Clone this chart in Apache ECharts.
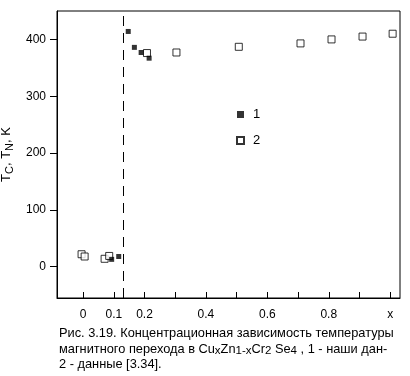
<!DOCTYPE html>
<html>
<head>
<meta charset="utf-8">
<script src="https://cdn.jsdelivr.net/npm/echarts@6/dist/echarts.min.js"></script>
<style>
  html, body { margin: 0; padding: 0; background: #fff; }
  #main { width: 410px; height: 376px; }
</style>
</head>
<body>
<div id="main"></div>
<script>
// ticks and labels
const xTicks = [0, 0.1, 0.2, 0.3, 0.4, 0.5, 0.6, 0.7, 0.8, 0.9, 1.0];
const xLabels = [0, 0.1, 0.2, 0.4, 0.6, 0.8, 1.0];
const yTicks = [0, 100, 200, 300, 400];

// 1 - наши данные (x, T)
const ours = [[0.093, 13], [0.116, 18], [0.147, 414], [0.167, 386], [0.189, 377], [0.215, 367]];
// 2 - данные [3.34]
const lit = [[-0.005, 22], [0.005, 18], [0.07, 14], [0.085, 19], [0.208, 376], [0.304, 377],
  [0.507, 387], [0.708, 393], [0.809, 400], [0.91, 405], [1.008, 410]];
// граница (пунктир)
const boundaryX = 0.134;

const FONT = '"Liberation Sans", Arial, sans-serif';

const chart = echarts.init(document.getElementById('main'));

const option = {
  backgroundColor: '#fff',
  animation: false,
  textStyle: { fontFamily: FONT, color: '#000' },
  grid: {
    left: 57, right: 10, top: 11, bottom: 78,
    containLabel: false,
    outerBoundsMode: 'none',
    show: true, borderColor: '#000', borderWidth: 1
  },
  legend: {
    data: ['1', '2'],
    orient: 'vertical',
    left: 231,
    top: 103,
    itemWidth: 7,
    itemHeight: 7,
    itemGap: 13,
    icon: 'rect',
    textStyle: { fontFamily: FONT, fontSize: 13, color: '#000', padding: [0, 0, 0, 4] }
  },
  xAxis: {
    type: 'value',
    min: -0.085,
    max: 1.032,
    splitLine: { show: false },
    axisLine: { show: true, onZero: false, lineStyle: { color: '#000' } },
    axisTick: { show: true, inside: true, length: 6, customValues: xTicks, lineStyle: { color: '#000' } },
    axisLabel: {
      customValues: xLabels,
      margin: 11,
      fontSize: 12,
      fontFamily: FONT,
      color: '#000',
      formatter: function (v) { return v === 1 ? 'x' : String(v); }
    }
  },
  yAxis: {
    type: 'value',
    min: -55,
    max: 450,
    splitLine: { show: false },
    axisLine: { show: true, onZero: false, lineStyle: { color: '#000' } },
    axisTick: { show: true, inside: false, length: 7, customValues: yTicks, lineStyle: { color: '#000' } },
    axisLabel: { customValues: yTicks, margin: 11, fontSize: 12, fontFamily: FONT, color: '#000' },
    name: '{n|T}{s|C}{n|, T}{s|N}{n|, K}',
    nameLocation: 'middle',
    nameGap: 38,
    nameTextStyle: {
      fontFamily: FONT,
      rich: {
        n: { fontSize: 13, fontFamily: FONT, color: '#000', lineHeight: 18, verticalAlign: 'middle' },
        s: { fontSize: 11, fontFamily: FONT, color: '#000', lineHeight: 9, verticalAlign: 'bottom' }
      }
    }
  },
  series: [
    {
      name: '2',
      type: 'scatter',
      symbol: 'rect',
      symbolSize: 7,
      itemStyle: { color: '#fff', borderColor: '#000', borderWidth: 1 },
      data: lit,
      z: 2
    },
    {
      name: '1',
      type: 'scatter',
      symbol: 'rect',
      symbolSize: 5,
      itemStyle: { color: '#000' },
      data: ours,
      z: 3,
      markLine: {
        silent: true,
        symbol: 'none',
        label: { show: false },
        lineStyle: { color: '#000', width: 1, type: [10, 7] },
        data: [{ xAxis: boundaryX }]
      }
    }
  ],
  graphic: [
    {
      type: 'text',
      left: 59,
      top: 327,
      style: {
        text: '{n|Рис. 3.19. Концентрационная зависимость температуры}\n' +
          '{n|магнитного перехода в Cu}{s|x}{n|Zn}{s|1-x}{n|Cr}{s|2}{n| Se}{s|4}{n| , 1 - наши дан-}\n' +
          '{n|2 - данные [3.34].}',
        fill: '#000',
        rich: {
          n: { fontSize: 12.8, fontFamily: FONT, fill: '#000', lineHeight: 15.5, verticalAlign: 'middle' },
          s: { fontSize: 11.5, fontFamily: FONT, fill: '#000', lineHeight: 9, verticalAlign: 'bottom' }
        }
      }
    }
  ]
};

chart.setOption(option);
</script>
</body>
</html>
